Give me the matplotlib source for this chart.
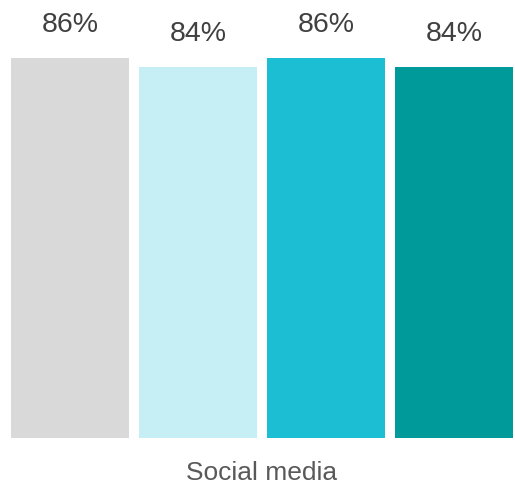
import matplotlib
matplotlib.use("Agg")
import matplotlib.pyplot as plt

category = "Social media"
values = [86, 84, 86, 84]
labels = ["86%", "84%", "86%", "84%"]
colors = ["#D9D9D9", "#C6EFF5", "#1CBED3", "#009A9A"]

plt.rcParams['font.family'] = ['Liberation Sans', 'DejaVu Sans']

W, H = 515, 499
fig = plt.figure(figsize=(W / 100, H / 100), dpi=100)
ax = fig.add_axes([0, (H - 438) / H, 1, 438 / H])
ax.set_xlim(-70 / 128, 3 + (W - 454) / 128)
ax.set_ylim(0, 438 / 4.42)

xs = list(range(len(values)))
bars = ax.bar(xs, values, width=118 / 128, color=colors)
for x, v, lab in zip(xs, values, labels):
    ax.annotate(lab, (x, v), xytext=(0, 23.5), textcoords="offset points",
                ha="center", va="center", fontsize=20.5, color="#404040")

ax.axis("off")
fig.text(262 / W, 1 - 473 / H, category, ha="center", va="center",
         fontsize=19, color="#595959")

fig.savefig("out.png", dpi=100)
